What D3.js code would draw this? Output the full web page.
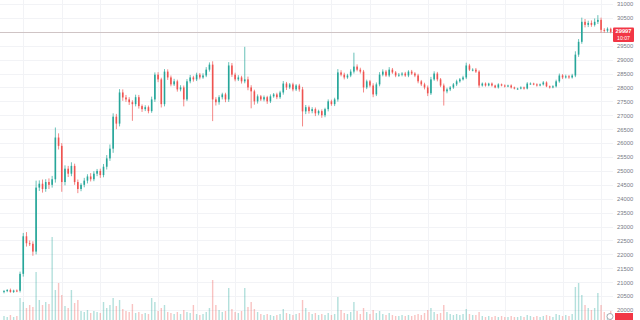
<!DOCTYPE html>
<html>
<head>
<meta charset="utf-8">
<script src="https://cdn.jsdelivr.net/npm/d3@7"></script>
<style>
  html, body { margin: 0; padding: 0; background: #fff; }
  #chart { width: 640px; height: 320px; overflow: hidden; }
  text { font-family: 'Liberation Sans', Arial, sans-serif; }
</style>
</head>
<body>
<div id="chart"></div>
<script>
// hourly-ish candles, open = previous close
const firstOpen = 20650;
const closes = [
  20680, 20720, 20650, 20700, 20690, 21300, 22650, 22400, 22380, 22100,
  24400, 24540, 24350, 24600, 24500, 24700, 26200, 25900, 24600, 25080,
  24900, 25180, 24600, 24350, 24500, 24650, 24800, 24700, 24900, 25000,
  24850, 25150, 25450, 25800, 26950, 26700, 27820, 27640, 27570, 27470,
  27400, 27650, 27330, 27220, 27290, 27150, 27570, 28460, 28290, 27400,
  28570, 28360, 28110, 28220, 27930, 28000, 27570, 28220, 28360, 28290,
  28460, 28360, 28430, 28640, 28820, 27570, 27470, 27650, 27750, 27570,
  28790, 28460, 28290, 28360, 28220, 28290, 28000, 27860, 27500, 27680,
  27570, 27650, 27500, 27680, 27750, 27650, 27820, 28140, 28000, 28110,
  27930, 28070, 27930, 27140, 27290, 27150, 27220, 27070, 27150, 27000,
  27220, 27500, 27400, 27570, 28540, 28460, 28360, 28430, 28570, 28750,
  28640, 28570, 28000, 28220, 28070, 27750, 28110, 28460, 28570, 28430,
  28640, 28540, 28430, 28460, 28500, 28430, 28570, 28500, 28430, 28220,
  28110, 28000, 27790, 28290, 28500, 28290, 28070, 27860, 27930, 28000,
  28110, 28220, 28290, 28360, 28790, 28640, 28640, 28570, 28070, 28140,
  28070, 28140, 28070, 28000, 28110, 28070, 28040, 28070, 28000, 27960,
  27960, 28000, 27960, 28140, 28140, 28110, 28070, 28110, 28180, 28040,
  28000, 28040, 28220, 28430, 28360, 28400, 28360, 28430, 29180, 29640,
  30360, 30250, 30320, 30250, 30360, 30430, 30070, 30040, 30110, 29997
];
const wickUp = [
  40, 30, 50, 30, 40, 80, 120, 150, 100, 90,
  250, 120, 150, 100, 130, 120, 360, 150, 100, 120,
  100, 130, 80, 90, 60, 100, 80, 120, 90, 70,
  80, 100, 120, 150, 120, 100, 120, 110, 90, 80,
  70, 90, 80, 60, 70, 60, 100, 80, 90, 60,
  90, 80, 70, 90, 60, 80, 70, 80, 90, 60,
  70, 60, 80, 90, 80, 120, 80, 70, 60, 60,
  120, 90, 70, 80, 60, 1170, 100, 80, 60, 70,
  50, 60, 50, 70, 50, 60, 60, 90, 60, 50,
  60, 50, 60, 90, 80, 60, 70, 60, 50, 60,
  50, 70, 60, 60, 120, 80, 70, 60, 80, 500,
  80, 70, 60, 60, 50, 80, 70, 90, 80, 60,
  90, 60, 50, 60, 50, 60, 50, 60, 50, 60,
  50, 60, 70, 90, 80, 60, 50, 70, 60, 50,
  50, 60, 50, 60, 100, 60, 50, 60, 50, 40,
  40, 30, 40, 30, 40, 30, 40, 30, 40, 30,
  30, 40, 30, 50, 40, 30, 40, 30, 50, 40,
  30, 40, 60, 70, 50, 60, 50, 60, 120, 100,
  150, 100, 80, 90, 120, 170, 80, 60, 50, 40
];
const wickDn = [
  50, 40, 30, 40, 50, 60, 100, 120, 80, 150,
  100, 120, 130, 100, 150, 100, 120, 130, 350, 120,
  120, 90, 100, 150, 80, 90, 100, 80, 70, 90,
  100, 80, 100, 90, 150, 200, 100, 120, 90, 100,
  600, 80, 90, 100, 70, 80, 60, 90, 100, 120,
  80, 90, 70, 60, 80, 70, 250, 60, 70, 80,
  60, 70, 50, 60, 70, 780, 120, 90, 80, 100,
  90, 80, 70, 60, 80, 70, 100, 610, 120, 80,
  60, 70, 90, 60, 50, 70, 60, 80, 90, 60,
  70, 60, 80, 540, 100, 90, 80, 100, 70, 90,
  70, 80, 60, 70, 80, 60, 70, 50, 60, 70,
  60, 70, 180, 60, 70, 100, 60, 70, 60, 50,
  60, 50, 60, 50, 60, 50, 60, 50, 60, 70,
  60, 70, 100, 60, 50, 70, 60, 510, 70, 60,
  50, 60, 50, 40, 60, 50, 60, 50, 80, 40,
  40, 30, 40, 30, 40, 30, 40, 30, 40, 30,
  40, 30, 40, 30, 40, 30, 40, 30, 40, 30,
  40, 30, 40, 50, 60, 40, 50, 40, 60, 80,
  70, 90, 80, 70, 60, 80, 100, 70, 60, 50
];
const volumes = [
  40, 30, 50, 30, 40, 220, 180, 120, 150, 130,
  480, 200, 150, 180, 160, 830, 300, 370, 250, 140,
  120, 300, 170, 200, 90, 80, 100, 70, 90, 80,
  70, 180, 120, 150, 220, 140, 200, 110, 90, 80,
  160, 70, 80, 60, 70, 60, 220, 180, 90, 120,
  150, 80, 70, 60, 80, 60, 100, 80, 70, 150,
  60, 50, 60, 80, 120, 400, 150, 100, 80, 90,
  320, 110, 80, 70, 90, 320, 130, 180, 110, 80,
  60, 50, 60, 50, 40, 50, 60, 110, 70, 60,
  50, 60, 70, 200, 120, 80, 60, 70, 50, 60,
  50, 70, 50, 60, 230, 100, 70, 60, 80, 180,
  90, 60, 120, 80, 60, 100, 70, 90, 60, 50,
  70, 50, 40, 40, 50, 40, 50, 40, 50, 60,
  50, 70, 100, 120, 80, 60, 70, 150, 80, 60,
  50, 60, 50, 60, 110, 60, 50, 50, 80, 40,
  30, 40, 30, 40, 30, 40, 30, 30, 40, 30,
  30, 40, 30, 50, 40, 30, 40, 30, 40, 50,
  40, 30, 60, 50, 40, 50, 40, 60, 330, 370,
  250, 150, 120, 100, 120, 270, 150, 80, 60, 90
];
const priceTicks = [20000, 20500, 21000, 21500, 22000, 22500, 23000, 23500, 24000, 24500,
  25000, 25500, 26000, 26500, 27000, 27500, 28000, 28500, 29000, 29500, 30000, 30500, 31000];
// candle indexes where the time grid falls
const gridCandles = [6, 18, 30, 48, 60, 72, 90, 102, 114, 132, 144, 156, 174, 186];
const lastPrice = 29997;
const countdown = '10:07';

const w = 640;
const h = 320;
const upColor = '#26a69a';
const downColor = '#ef5350';

const candles = closes.map((c, i) => {
  const o = i === 0 ? firstOpen : closes[i - 1];
  return {
    i: i, o: o, c: c,
    hi: Math.max(o, c) + wickUp[i],
    lo: Math.min(o, c) - wickDn[i],
    v: volumes[i]
  };
});

const svg = d3.select('#chart')
  .append('svg')
  .attr('width', w)
  .attr('height', h);

const xScale = d3.scaleLinear()
  .domain([0, closes.length - 1])
  .range([4, 610.7]);

const yScale = d3.scaleLinear()
  .domain([20000, 31000])
  .range([310, 4]);

const vScale = d3.scaleLinear()
  .domain([0, 1000])
  .range([320, 220]);

// grid
svg.append('g')
  .selectAll('line')
  .data(priceTicks)
  .enter()
  .append('line')
  .attr('x1', 0)
  .attr('x2', 613)
  .attr('y1', d => Math.round(yScale(d)) + 0.5)
  .attr('y2', d => Math.round(yScale(d)) + 0.5)
  .attr('stroke', '#f2f3f6');

svg.append('g')
  .selectAll('line')
  .data(gridCandles)
  .enter()
  .append('line')
  .attr('x1', d => Math.round(xScale(d)) + 0.5)
  .attr('x2', d => Math.round(xScale(d)) + 0.5)
  .attr('y1', 0)
  .attr('y2', h)
  .attr('stroke', '#f2f3f6');

// volume
svg.append('g')
  .selectAll('rect')
  .data(candles)
  .enter()
  .append('rect')
  .attr('x', d => xScale(d.i) - 0.7)
  .attr('y', d => vScale(d.v))
  .attr('width', 1.4)
  .attr('height', d => h - vScale(d.v))
  .attr('fill', d => d.c >= d.o ? upColor : downColor)
  .attr('opacity', 0.35);

// last price line
svg.append('line')
  .attr('x1', 0)
  .attr('x2', 613)
  .attr('y1', Math.round(yScale(lastPrice)) + 0.5)
  .attr('y2', Math.round(yScale(lastPrice)) + 0.5)
  .attr('stroke', '#cfc4c5')
  .attr('stroke-width', 1);

// candles
const cg = svg.append('g');

cg.selectAll('line')
  .data(candles)
  .enter()
  .append('line')
  .attr('x1', d => xScale(d.i))
  .attr('x2', d => xScale(d.i))
  .attr('y1', d => yScale(d.hi))
  .attr('y2', d => yScale(d.lo))
  .attr('stroke', d => d.c >= d.o ? upColor : downColor)
  .attr('stroke-width', 0.7);

cg.selectAll('rect')
  .data(candles)
  .enter()
  .append('rect')
  .attr('x', d => xScale(d.i) - 0.8)
  .attr('y', d => yScale(Math.max(d.o, d.c)))
  .attr('width', 1.6)
  .attr('height', d => Math.max(1, Math.abs(yScale(d.o) - yScale(d.c))))
  .attr('fill', d => d.c >= d.o ? upColor : downColor);

// price axis; the label under the last price tag is hidden by the tag
const yAxis = d3.axisRight(yScale)
  .tickValues(priceTicks.filter(d => Math.abs(yScale(d) - yScale(lastPrice)) > 8))
  .tickSize(0)
  .tickPadding(0)
  .tickFormat(d => d);

svg.append('g')
  .attr('transform', 'translate(617, 0)')
  .call(yAxis)
  .call(g => g.select('.domain').remove())
  .selectAll('text')
  .attr('fill', '#787b86')
  .style('font-size', '5.8px');

// last price tag
const tag = svg.append('g')
  .attr('transform', 'translate(613, ' + (yScale(lastPrice) - 4.5) + ')');

tag.append('rect')
  .attr('width', 21)
  .attr('height', 14.5)
  .attr('rx', 1)
  .attr('fill', '#f23645');

tag.append('text')
  .attr('x', 10.5)
  .attr('y', 5.8)
  .attr('text-anchor', 'middle')
  .attr('fill', '#fff')
  .style('font-size', '5.8px')
  .style('font-weight', 'bold')
  .text(lastPrice);

tag.append('text')
  .attr('x', 10.5)
  .attr('y', 12.3)
  .attr('text-anchor', 'middle')
  .attr('fill', '#fff')
  .style('font-size', '5.2px')
  .text(countdown);

// small marker at the bottom of the axis
svg.append('circle')
  .attr('cx', 610)
  .attr('cy', 316.5)
  .attr('r', 3)
  .attr('fill', '#fff')
  .attr('stroke', '#9598a1')
  .attr('stroke-width', 0.8);

svg.append('rect')
  .attr('x', 615)
  .attr('y', 313)
  .attr('width', 18)
  .attr('height', 8)
  .attr('fill', '#f23645');
</script>
</body>
</html>
